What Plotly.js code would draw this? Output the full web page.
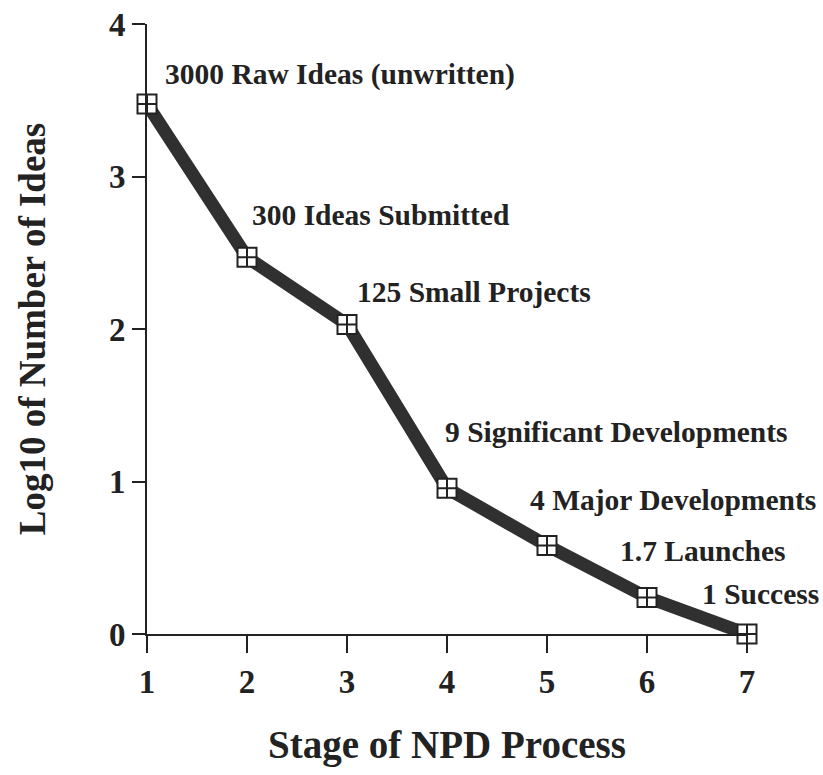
<!DOCTYPE html>
<html>
<head>
<meta charset="utf-8">
<script src="https://cdn.plot.ly/plotly-3.0.1.min.js"></script>
<style>html,body{margin:0;padding:0;background:#fff;}#chart{width:823px;height:775px;}</style>
</head>
<body>
<div id="chart"></div>
<script>
// Data
const stages = [1, 2, 3, 4, 5, 6, 7];
const log10Ideas = [3.475, 2.47, 2.03, 0.955, 0.58, 0.24, 0.0];
const labels = [
  "3000 Raw Ideas (unwritten)",
  "300 Ideas Submitted",
  "125 Small Projects",
  "9 Significant Developments",
  "4 Major Developments",
  "1.7 Launches",
  "1 Success"
];
const xTicks = [1, 2, 3, 4, 5, 6, 7];
const yTicks = [0, 1, 2, 3, 4];

// Label offsets (pixels, style only)
const labelDx = [16, 3, 8, -4, -19, -29, -47];
const labelDy = [30, 42, 32, 56, 46, 46, 40];

const FONT = "Liberation Serif, Times New Roman, serif";
const INK = "#222";

const traces = [
  {
    x: stages, y: log10Ideas, type: "scatter", mode: "lines",
    line: {color: "#303030", width: 13},
    hoverinfo: "skip", cliponaxis: false
  },
  {
    x: stages, y: log10Ideas, type: "scatter", mode: "markers",
    marker: {symbol: "square-cross", size: 19, color: "#fff", line: {color: INK, width: 2}},
    cliponaxis: false
  }
];

const annotations = labels.map((t, i) => ({
  x: stages[i], y: log10Ideas[i], xref: "x", yref: "y",
  text: t, showarrow: false, xanchor: "left", yanchor: "middle",
  xshift: labelDx[i], yshift: labelDy[i],
  font: {family: FONT, size: 29.5, color: INK, weight: "bold"}
}));

const layout = {
  width: 823, height: 775,
  margin: {l: 147, r: 76, t: 24, b: 141},
  paper_bgcolor: "#fff", plot_bgcolor: "#fff",
  showlegend: false,
  xaxis: {
    range: [1, 7], tickvals: xTicks, ticktext: xTicks.map(String),
    showgrid: false, zeroline: false, showline: true, linecolor: INK, linewidth: 2,
    ticks: "outside", ticklen: 17, tickwidth: 2, tickcolor: INK,
    tickfont: {family: FONT, size: 33, color: INK, weight: "bold"},
    title: {text: "Stage of NPD Process", font: {family: FONT, size: 39, color: INK, weight: "bold"}, standoff: 32}
  },
  yaxis: {
    range: [0, 4], tickvals: yTicks, ticktext: yTicks.map(String),
    showgrid: false, zeroline: false, showline: true, linecolor: INK, linewidth: 2,
    ticks: "outside", ticklen: 13, tickwidth: 2, tickcolor: INK,
    tickfont: {family: FONT, size: 33, color: INK, weight: "bold"},
    title: {text: "Log10 of Number of Ideas", font: {family: FONT, size: 37, color: INK, weight: "bold"}, standoff: 52}
  },
  annotations: annotations
};

Plotly.newPlot("chart", traces, layout, {displayModeBar: false, staticPlot: true});
</script>
</body>
</html>
